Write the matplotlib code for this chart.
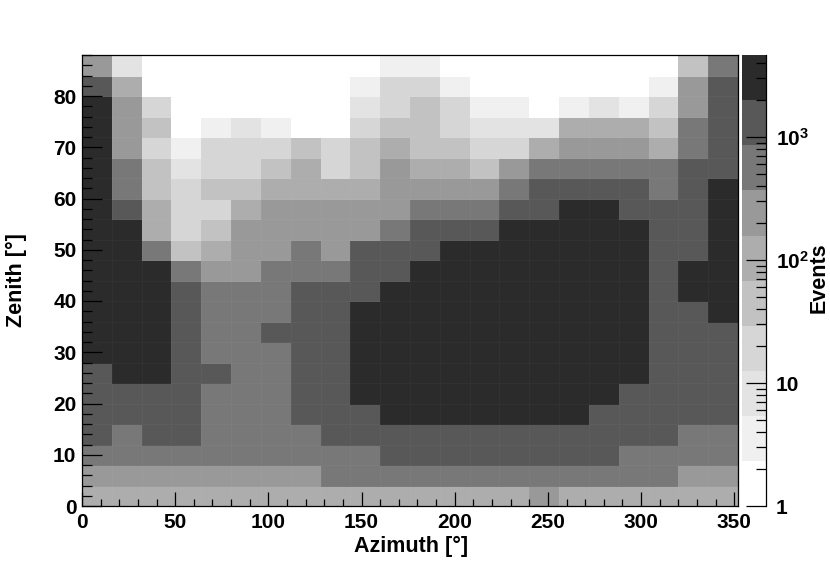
import numpy as np
import matplotlib
matplotlib.use("Agg")
import matplotlib.pyplot as plt
from matplotlib.colors import ListedColormap, BoundaryNorm
from matplotlib.ticker import FixedLocator, FixedFormatter, MultipleLocator

plt.rcParams['font.family'] = ['Liberation Sans', 'DejaVu Sans']
plt.rcParams['font.weight'] = 'bold'
plt.rcParams['mathtext.fontset'] = 'custom'
plt.rcParams['mathtext.bf'] = 'Liberation Sans:bold'
plt.rcParams['mathtext.rm'] = 'Liberation Sans:bold'

azimuth_edges = list(range(0, 353, 16))
zenith_edges = list(range(0, 89, 4))

# events per cell (one value per grey band), lowest zenith first
zen_00 = [100, 100, 100, 100, 100, 100, 100, 100, 100, 100, 100, 100, 100, 100, 100, 240, 100, 100, 100, 100, 100, 100]
zen_04 = [240, 240, 240, 240, 240, 240, 240, 240, 560, 560, 560, 560, 560, 560, 560, 560, 560, 560, 560, 560, 240, 240]
zen_08 = [560, 560, 560, 560, 560, 560, 560, 560, 560, 560, 1300, 1300, 1300, 1300, 1300, 1300, 1300, 1300, 560, 560, 560, 560]
zen_12 = [1300, 560, 1300, 1300, 560, 560, 560, 560, 1300, 1300, 1300, 1300, 1300, 1300, 1300, 1300, 1300, 1300, 1300, 1300, 560, 560]
zen_16 = [1300, 1300, 1300, 1300, 560, 560, 560, 1300, 1300, 1300, 3000, 3000, 3000, 3000, 3000, 3000, 3000, 1300, 1300, 1300, 1300, 1300]
zen_20 = [1300, 1300, 1300, 1300, 560, 560, 560, 1300, 1300, 3000, 3000, 3000, 3000, 3000, 3000, 3000, 3000, 3000, 1300, 1300, 1300, 1300]
zen_24 = [1300, 3000, 3000, 1300, 1300, 560, 560, 1300, 1300, 3000, 3000, 3000, 3000, 3000, 3000, 3000, 3000, 3000, 3000, 1300, 1300, 1300]
zen_28 = [3000, 3000, 3000, 1300, 560, 560, 560, 1300, 1300, 3000, 3000, 3000, 3000, 3000, 3000, 3000, 3000, 3000, 3000, 1300, 1300, 1300]
zen_32 = [3000, 3000, 3000, 1300, 560, 560, 1300, 1300, 1300, 3000, 3000, 3000, 3000, 3000, 3000, 3000, 3000, 3000, 3000, 1300, 1300, 1300]
zen_36 = [3000, 3000, 3000, 1300, 560, 560, 560, 1300, 1300, 3000, 3000, 3000, 3000, 3000, 3000, 3000, 3000, 3000, 3000, 1300, 1300, 3000]
zen_40 = [3000, 3000, 3000, 1300, 560, 560, 560, 1300, 1300, 1300, 3000, 3000, 3000, 3000, 3000, 3000, 3000, 3000, 3000, 1300, 3000, 3000]
zen_44 = [3000, 3000, 3000, 560, 240, 240, 560, 560, 560, 1300, 1300, 3000, 3000, 3000, 3000, 3000, 3000, 3000, 3000, 1300, 3000, 3000]
zen_48 = [3000, 3000, 560, 45, 100, 240, 240, 560, 240, 1300, 1300, 1300, 3000, 3000, 3000, 3000, 3000, 3000, 3000, 1300, 1300, 3000]
zen_52 = [3000, 3000, 100, 19, 45, 240, 240, 240, 240, 240, 560, 1300, 1300, 1300, 3000, 3000, 3000, 3000, 3000, 1300, 1300, 3000]
zen_56 = [3000, 1300, 100, 19, 19, 100, 240, 240, 240, 240, 240, 560, 560, 560, 1300, 1300, 3000, 3000, 1300, 1300, 1300, 3000]
zen_60 = [3000, 560, 45, 19, 45, 45, 100, 100, 100, 100, 240, 240, 240, 240, 560, 1300, 1300, 1300, 1300, 560, 1300, 3000]
zen_64 = [3000, 560, 45, 8, 19, 19, 45, 100, 19, 45, 240, 100, 100, 45, 240, 560, 560, 560, 560, 560, 1300, 1300]
zen_68 = [3000, 240, 19, 3.5, 19, 19, 19, 45, 19, 45, 100, 45, 45, 19, 19, 100, 240, 240, 240, 100, 560, 1300]
zen_72 = [3000, 240, 45, 1.5, 3.5, 8, 3.5, 1.5, 1.5, 19, 45, 45, 19, 8, 8, 8, 100, 100, 100, 45, 560, 1300]
zen_76 = [3000, 240, 19, 1.5, 1.5, 1.5, 1.5, 1.5, 1.5, 8, 19, 45, 19, 3.5, 3.5, 1.5, 3.5, 8, 3.5, 19, 240, 1300]
zen_80 = [1300, 100, 1.5, 1.5, 1.5, 1.5, 1.5, 1.5, 1.5, 3.5, 19, 19, 3.5, 1.5, 1.5, 1.5, 1.5, 1.5, 1.5, 3.5, 240, 1300]
zen_84 = [240, 8, 1.5, 1.5, 1.5, 1.5, 1.5, 1.5, 1.5, 1.5, 3.5, 3.5, 1.5, 1.5, 1.5, 1.5, 1.5, 1.5, 1.5, 1.5, 45, 560]

events = np.array([zen_00, zen_04, zen_08, zen_12, zen_16, zen_20, zen_24, zen_28,
                   zen_32, zen_36, zen_40, zen_44, zen_48, zen_52, zen_56, zen_60,
                   zen_64, zen_68, zen_72, zen_76, zen_80, zen_84])

# contour levels of the colour scale and the grey of each band
level_edges = [1, 2.33, 5.4, 12.6, 29.3, 68, 158, 369, 858, 2000, 4650]
level_values = [1.5, 3.5, 8, 19, 45, 100, 240, 560, 1300, 3000]
level_greys = ['#ffffff', '#f0f0f0', '#e3e3e3', '#d6d6d6', '#c2c2c2',
               '#adadad', '#999999', '#787878', '#585858', '#2b2b2b']

cb_ticks = [1, 10, 100, 1000]
cb_ticklabels = ['1', '10', r'$\mathbf{10^{2}}$', r'$\mathbf{10^{3}}$']
cb_minor = [2, 3, 4, 5, 6, 7, 8, 9, 20, 30, 40, 50, 60, 70, 80, 90,
            200, 300, 400, 500, 600, 700, 800, 900, 2000, 3000, 4000]

W, H = 830, 563
fig = plt.figure(figsize=(W / 100, H / 100), dpi=100)
ax1 = fig.add_axes([82 / W, 1 - 506 / H, 656 / W, 451 / H])
cax = fig.add_axes([742 / W, 1 - 506 / H, 24 / W, 451 / H])

cmap = ListedColormap(level_greys)
norm = BoundaryNorm(level_edges, cmap.N)

ax1.pcolormesh(azimuth_edges, zenith_edges, events, cmap=cmap, norm=norm,
               edgecolors=(1, 1, 1, 0.03), linewidth=0.5)
ax1.set_xlim(0, 352)
ax1.set_ylim(0, 88)
ax1.xaxis.set_major_locator(MultipleLocator(50))
ax1.xaxis.set_minor_locator(MultipleLocator(10))
ax1.yaxis.set_major_locator(MultipleLocator(10))
ax1.yaxis.set_minor_locator(MultipleLocator(2))
ax1.tick_params(axis='x', which='major', direction='in', length=10, width=0.9, labelsize=15, pad=5)
ax1.tick_params(axis='x', which='minor', direction='in', length=5, width=0.9)
ax1.tick_params(axis='y', which='major', direction='in', length=14.4, width=0.9, labelsize=15, pad=4)
ax1.tick_params(axis='y', which='minor', direction='in', length=7.2, width=0.9)
for spine in ax1.spines.values():
    spine.set_linewidth(0.9)

cax.pcolormesh([0, 1], level_edges, np.array(level_values)[:, None], cmap=cmap, norm=norm)
cax.set_yscale('log')
cax.set_ylim(1, 4650)
cax.set_xlim(0, 1)
cax.set_xticks([])
cax.yaxis.tick_right()
cax.yaxis.set_major_locator(FixedLocator(cb_ticks))
cax.yaxis.set_major_formatter(FixedFormatter(cb_ticklabels))
cax.yaxis.set_minor_locator(FixedLocator(cb_minor))
cax.yaxis.set_minor_formatter(FixedFormatter([]))
cax.tick_params(axis='y', which='major', direction='in', length=14.4, width=0.9, labelsize=15, pad=7)
cax.tick_params(axis='y', which='minor', direction='in', length=7.2, width=0.9)
cax.spines['left'].set_visible(False)
cax.spines['top'].set_visible(False)
cax.spines['bottom'].set_visible(False)
cax.spines['right'].set_linewidth(0.9)

fig.text(411 / W, 1 - 546 / H, 'Azimuth [°]', ha='center', va='center', fontsize=15.5, fontweight='bold')
fig.text(16 / W, 1 - 280 / H, 'Zenith [°]', ha='center', va='center', rotation=90, fontsize=15.5, fontweight='bold')
fig.text(819 / W, 1 - 278 / H, 'Events', ha='center', va='center', rotation=90, fontsize=15.5, fontweight='bold')

fig.savefig('out.png', dpi=100)
plt.close(fig)
